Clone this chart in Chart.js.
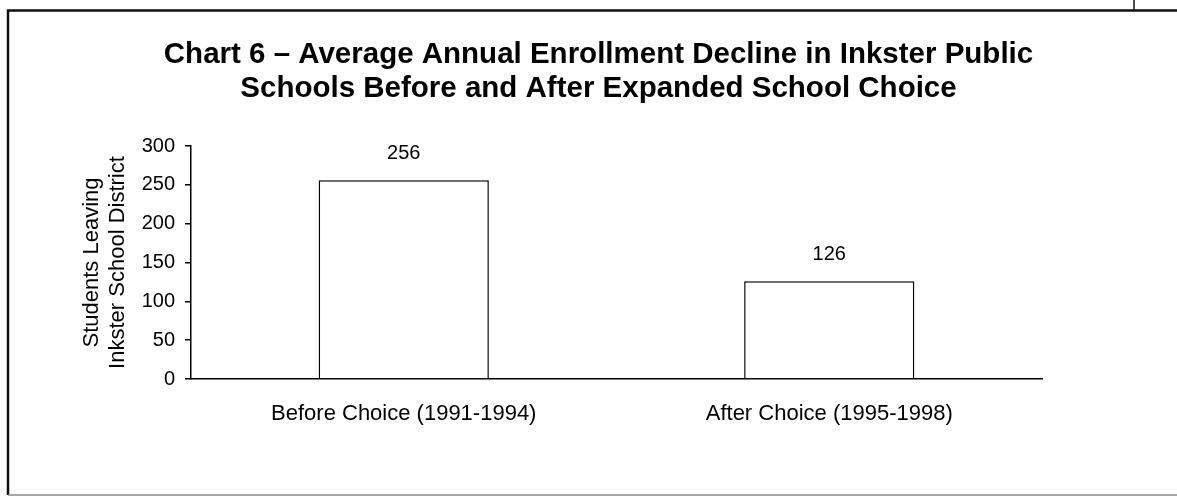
<!DOCTYPE html>
<html>
<head>
<meta charset="utf-8">
<script src="https://cdn.jsdelivr.net/npm/chart.js@4"></script>
<style>
  html, body { margin: 0; padding: 0; background: #fff; }
  #wrap { width: 1177px; height: 496px; position: relative; }
</style>
</head>
<body>
<div id="wrap"><canvas id="c"></canvas></div>
<script>
// ---- data ----
const titleLines = ['Chart 6 \u2013 Average Annual Enrollment Decline in Inkster Public', 'Schools Before and After Expanded School Choice'];
const categories = ['Before Choice (1991-1994)', 'After Choice (1995-1998)'];
const studentsLeaving = [256, 126];
const yAxisTitle = ['Students Leaving', 'Inkster School District'];
const yMin = 0, yMax = 300, yStep = 50;

const FONT = "'Liberation Sans', Arial, Helvetica, sans-serif";

const framePlugin = {
  id: 'frame',
  afterDraw(chart) {
    const ctx = chart.ctx;
    ctx.save();
    ctx.strokeStyle = '#111';
    ctx.lineWidth = 2.5;
    ctx.beginPath();
    ctx.moveTo(8, 495); ctx.lineTo(8, 10.5); ctx.lineTo(1177, 10.5);
    ctx.stroke();
    ctx.lineWidth = 1.5;
    ctx.beginPath();
    ctx.moveTo(1134, 0); ctx.lineTo(1134, 10.5);
    ctx.stroke();
    ctx.strokeStyle = '#888';
    ctx.lineWidth = 1.5;
    ctx.beginPath();
    ctx.moveTo(8, 495); ctx.lineTo(1177, 495);
    ctx.stroke();
    ctx.restore();
  }
};

const valueLabels = {
  id: 'valueLabels',
  afterDatasetsDraw(chart) {
    const ctx = chart.ctx;
    const meta = chart.getDatasetMeta(0);
    ctx.save();
    ctx.font = '20px ' + FONT;
    ctx.fillStyle = '#000';
    ctx.textAlign = 'center';
    ctx.textBaseline = 'middle';
    meta.data.forEach((bar, i) => {
      ctx.fillText(String(chart.data.datasets[0].data[i]), bar.x, bar.y - 27);
    });
    ctx.restore();
  }
};

new Chart(document.getElementById('c'), {
  type: 'bar',
  data: {
    labels: categories,
    datasets: [{
      data: studentsLeaving,
      backgroundColor: '#fff',
      borderColor: '#000',
      borderWidth: 1.5,
      categoryPercentage: 0.4,
      barPercentage: 1.0,
      yAxisID: 'y'
    }]
  },
  options: {
    responsive: true,
    maintainAspectRatio: false,
    animation: false,
    devicePixelRatio: 1,
    layout: { padding: { left: 20, right: 0, top: 0, bottom: 0 } },
    plugins: {
      legend: { display: false },
      tooltip: { enabled: false },
      title: {
        display: true,
        text: titleLines,
        color: '#000',
        font: { family: FONT, size: 29.5, weight: 'bold', lineHeight: 1.153 },
        padding: { top: 38, bottom: 40 }
      }
    },
    scales: {
      x: {
        grid: { display: false, drawTicks: false },
        border: { display: true, color: '#000', width: 1.5 },
        ticks: { color: '#000', font: { family: FONT, size: 22 }, padding: 22, maxRotation: 0 },
        afterFit(s) { s.height = 496 - 379; }
      },
      y: {
        position: 'left',
        min: yMin, max: yMax,
        ticks: { stepSize: yStep, color: '#000', font: { family: FONT, size: 20 }, padding: 10 },
        grid: { drawOnChartArea: false, drawTicks: true, tickLength: 6, color: '#000', lineWidth: 1.5 },
        border: { display: true, color: '#000', width: 1.5 },
        title: {
          display: true,
          text: yAxisTitle,
          color: '#000',
          font: { family: FONT, size: 22, lineHeight: 1.18 },
          padding: { top: 59, bottom: 0 }
        },
        afterFit(s) { s.width = 191 - 20; }
      },
      yr: {
        position: 'right',
        display: true,
        ticks: { display: false },
        grid: { display: false },
        border: { display: false },
        afterFit(s) { s.width = 1177 - 1042; }
      }
    }
  },
  plugins: [framePlugin, valueLabels]
});
</script>
</body>
</html>
